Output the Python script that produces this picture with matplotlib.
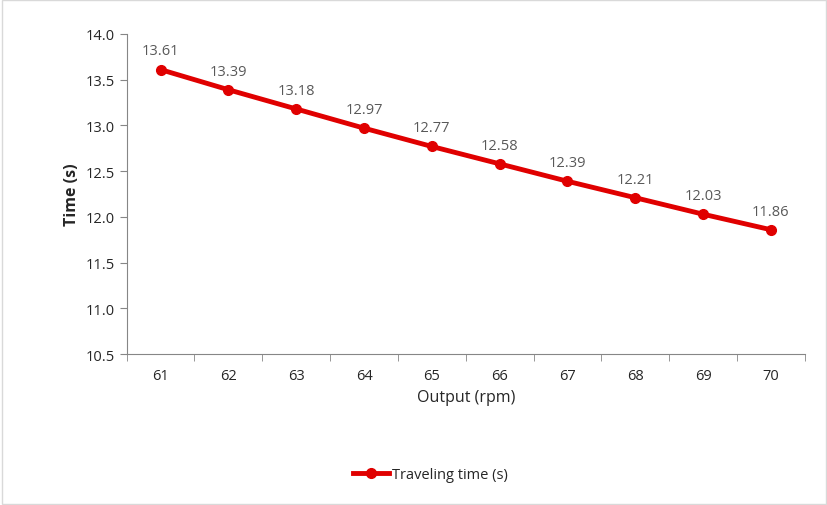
import matplotlib
matplotlib.use("Agg")
import matplotlib.pyplot as plt
from matplotlib.patches import Rectangle

categories = ["61", "62", "63", "64", "65", "66", "67", "68", "69", "70"]
times = [13.61, 13.39, 13.18, 12.97, 12.77, 12.58, 12.39, 12.21, 12.03, 11.86]

plt.rcParams['font.family'] = ['Open Sans', 'DejaVu Sans']
fig = plt.figure(figsize=(8.28, 5.06), dpi=100)
fig.patches.append(Rectangle((0.002, 0.002), 0.996, 0.996, transform=fig.transFigure,
                             fill=False, edgecolor="#d9d9d9", lw=1))
ax = fig.add_axes([0.153, 0.298, 0.819, 0.633])
x = list(range(len(categories)))
ax.plot(x, times, color="#e00000", lw=3.5, marker="o", ms=7, label="Traveling time (s)")
for xi, v in zip(x, times):
    ax.annotate(f"{v:.2f}", (xi, v), xytext=(0, 8), textcoords="offset points",
                ha="center", va="bottom", fontsize=10.5, color="#595959")
ax.set_xlim(-0.5, 9.5)
ax.set_ylim(10.5, 14.0)
ax.set_yticks([10.5 + 0.5 * i for i in range(8)])
ax.set_yticklabels([f"{10.5 + 0.5 * i:.1f}" for i in range(8)])
ax.set_xticks(x)
ax.set_xticklabels(categories)
ax.set_xticks([i - 0.5 for i in range(11)], minor=True)
ax.tick_params(axis="x", which="major", length=0, pad=10)
ax.tick_params(axis="x", which="minor", length=5, color="#868686")
ax.tick_params(axis="y", length=5, color="#868686")
ax.tick_params(labelsize=10.5, labelcolor="#262626")
for s in ["top", "right"]:
    ax.spines[s].set_visible(False)
for s in ["left", "bottom"]:
    ax.spines[s].set_color("#868686")
ax.set_xlabel("Output (rpm)", fontsize=11.5, color="#262626")
ax.set_ylabel("Time (s)", fontsize=11.5, color="#262626", fontweight="bold")
fig.legend(*ax.get_legend_handles_labels(), loc="center", bbox_to_anchor=(0.52, 0.06),
           frameon=False, fontsize=10.5, handlelength=2.5, handletextpad=0.2,
           labelcolor="#262626")
fig.savefig("out.png", dpi=100)
